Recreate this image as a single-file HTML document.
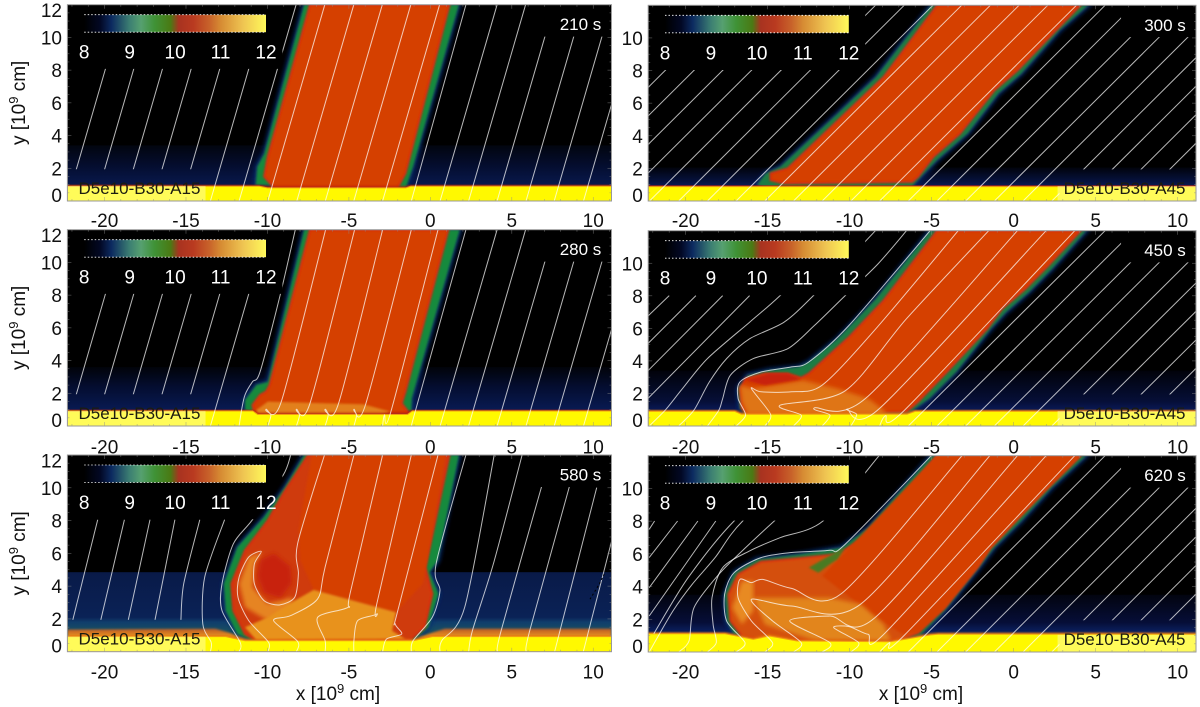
<!DOCTYPE html>
<html lang="en">
<head>
<meta charset="utf-8">
<title>Jet density panels</title>
<style>
html,body{margin:0;padding:0;background:#fff;}
svg{display:block;}
text{font-family:"Liberation Sans",sans-serif;}
</style>
</head>
<body>
<svg id="figure" xmlns="http://www.w3.org/2000/svg" width="1200" height="707" viewBox="0 0 1200 707">
  <defs>
    <filter id="soft" x="-10%" y="-10%" width="120%" height="120%"><feGaussianBlur stdDeviation="1"/></filter>
    <filter id="softer" x="-10%" y="-10%" width="120%" height="120%"><feGaussianBlur stdDeviation="2.2"/></filter>
    <filter id="lineSoft" x="-10%" y="-10%" width="120%" height="120%"><feGaussianBlur stdDeviation="0.3"/></filter>
  </defs>
</svg>
<script>
/* ---------- axis values ---------- */
const xDomain = [-22.28, 11.12];
const yDomain = [0, 12];
const xTickValues = [-20, -15, -10, -5, 0, 5, 10];
const yTickValuesLeft = [12, 10, 8, 6, 4, 2, 0];
const yTickValuesRight = [10, 8, 6, 4, 2, 0];
const colorbarDomain = [8, 12];
const colorbarTicks = [8, 9, 10, 11, 12];
const colorbarStops = [
  [8, '#000000'], [8.35, '#020824'], [8.6, '#0c2a60'], [9, '#3c7f72'], [9.25, '#56a070'],
  [9.55, '#3f9236'], [9.9, '#4a7a14'], [10.08, '#a83320'], [10.4, '#b93a20'], [10.75, '#c8622a'],
  [11, '#d68b33'], [11.5, '#efc552'], [12, '#fff95a']
];
const panelTimes = ['210 s', '280 s', '580 s', '300 s', '450 s', '620 s'];
const panelIds = ['D5e10-B30-A15', 'D5e10-B30-A15', 'D5e10-B30-A15', 'D5e10-B30-A45', 'D5e10-B30-A45', 'D5e10-B30-A45'];

/* ---------- masks in data units: xmin,xmax,ymin,ymax ---------- */
const lineMaskLeft = [[-22.28,-9.08,8.08,12],[6.2,11.12,10.05,12],[-22.28,-14.1,0,1.94]];
const lineMaskRight = [[-22.28,-9.05,8.03,12],[6.55,11.12,10.05,12],[2.8,11.12,0,1.94]];

/* ---------- surface profiles (x,y) ---------- */
const surface210 = [-22.28,.9,-10.5,.9,-10,.8,-1.5,.8,-1.2,.9,11.12,.9];
const surface280 = [-22.28,.92,-10.9,.92,-10.6,.7,-1.4,.7,-1.1,.92,11.12,.92];
const surface580 = [-22.28,.92,-12.56,.92,-11.38,.67,-1.06,.67,.12,.92,11.12,.92];
const surface300 = [-22.28,.88,11.12,.88];
const surface450 = [-22.28,.9,-17,.9,-16.6,.72,-6.5,.72,-6,.9,11.12,.9];
const surface620 = [-22.28,1.12,-17.6,1.12,-15.87,.77,-14.9,.98,-13.2,.67,-7.5,.63,-5.1,1.04,-4.6,1.08,11.12,1.08];

/* ---------- corona top heights and stops ---------- */
const coronaTop = [3.4, 3.6, 4.85, 2.05, 3.4, 3.5];
const coronaStops = [
  [[3.4,'#02050f'],[2.2,'#040d2e'],[.9,'#09194e']],
  [[3.6,'#01030a'],[2.4,'#040d30'],[.9,'#091b54']],
  [[4.85,'#091a48'],[2.1,'#0a2256'],[1.8,'#103e6c'],[1.3,'#174e62']],
  [[2.05,'#01030c'],[1.2,'#06123f'],[.9,'#0a1a55']],
  [[3.4,'#01020a'],[1.5,'#060f38'],[.9,'#0a1a5a']],
  [[3.5,'#02040f'],[1.8,'#060e38'],[1.1,'#0c2468']]
];

/* ---------- region outlines in units of 10^9 cm ---------- */
const green210 = [-7.75,12,-10.2,2.9,-10.63,2.1,-10.73,.98,-1.5,.8,-1.05,2.1,1.75,12];
const core210 = [-7.39,12,-9.98,2.71,-10.2,1.49,-9.62,.84,-2,.84,-1.53,1.69,1.17,12];
const green280 = [-7.75,12,-9.98,2.71,-10.68,2.51,-11.38,1.59,-11.38,.98,-10.8,.77,-1.17,.88,-1.13,1.69,1.8,12];
const core280 = [-7.39,12,-9.86,2.51,-10.09,2.1,-10.45,1.9,-10.92,1.28,-10.8,.77,-1.29,.77,-1.76,1.39,-1.53,2.1,1.1,12];
const dome280 = [-10.68,.98,-9.98,1.49,-6.46,1.39,-4.11,1.33,-2.46,.88,-2.93,.71,-10.68,.71];
const layer580 = [-22.28,0,-22.28,1.35,-13.2,1.4,-11.8,1,-.4,1,.9,1.4,11.12,1.4,11.12,0];
const green580 = [-7.75,12,-8.92,10.05,-10.21,8.22,-11.85,6.38,-12.68,4.14,-12.56,2.51,-11.85,1.08,-10.92,.67,-1.06,.67,-.12,1.49,.5,3.53,-.05,4.85,.45,5.57,1.75,12];
const core580 = [-7.51,12,-9.04,9.64,-9.98,8.01,-11.38,6.18,-12.21,4.14,-12.09,2.51,-11.38,1.08,-10.68,.67,-1.29,.67,-.35,1.49,.12,3.53,-.31,5.16,1.17,12];
const jet580 = [-7.28,12,-8.1,7.4,-7.98,5.57,-7.16,3.77,-2.11,2.41,-.47,4.14,-.23,5.36,.94,12];
const bright580 = [-7.16,3.77,-2.11,2.41,-2.35,1.28,-1.53,.77,-10.68,.71,-11.38,1.49,-9.98,2.1,-8.33,3.12];
const swirl580 = [-10.33,6.08,-11.15,5.77,-11.74,4.14,-11.38,2.71,-9.98,1.9,-8.57,2.3,-8.45,3.32,-9.98,2.92,-10.92,3.93,-10.8,5.36];
const blob580 = [-9.6,6,-8.6,5.2,-8.5,4.2,-9.2,3.3,-10.2,3.6,-10.6,4.6,-10.4,5.6];
const green300 = [-5.02,12,-8.4,7.6,-10.74,5.36,-14.24,2.1,-15.12,1.69,-15.64,.98,-14.94,.77,-6.3,.77,-5.65,1.49,-4.67,2.51,-2.8,4.14,-.93,6.59,.47,7.81,2.8,10.46,4.55,12];
const core300 = [-4.67,12,-7.93,7.6,-10.27,5.36,-13.77,2,-14.82,1.69,-14.82,1.28,-14,1.08,-6.18,1.18,-5.83,1.49,-4.9,2.71,-3.27,4.14,-1.17,6.79,.23,8.01,2.57,10.46,4.08,12];
const green450 = [-5.09,12,-8.4,7.81,-10.74,5.36,-12.49,3.93,-13.07,3.63,-14.94,3.43,-16.22,3.12,-16.8,2.3,-16.69,1.08,-16.34,.71,-6.42,.77,-5.13,1.69,-3.5,3.32,-1.4,5.97,-.47,6.99,.93,8.22,2.33,9.64,4.43,12];
const core450 = [-4.67,12,-7.93,7.71,-10.04,5.46,-12.49,3.22,-12.95,2.96,-13.77,3.22,-15.17,3.22,-16.34,2.92,-16.69,2.3,-16.57,1.08,-16.22,.71,-6.53,.88,-5.83,1.49,-4.08,3.32,-1.63,5.97,-.7,7.2,.7,8.42,2.1,9.85,4.08,12];
const bright450 = [-16.69,2.51,-15.87,2.3,-12.84,2.81,-10.74,2.3,-8.87,1.69,-8.05,1.08,-7.7,.71,-16.22,.71,-16.57,1.49];
const dome450 = [-16.34,2.81,-14.94,3.22,-13.77,3.22,-12.95,2.87,-15.17,2.5];
const green620 = [-5.02,12,-8.87,7.6,-10.5,6.38,-13.07,5.97,-15.64,5.67,-17.04,4.85,-17.62,3.53,-17.5,1.9,-17.04,1.08,-15.87,.71,-5.72,.98,-4.2,2.51,-2.1,5.16,-1.17,6.38,.47,8.01,2.33,10.05,4.43,12];
const core620 = [-4.67,12,-9.1,7,-10.74,5.97,-13.07,5.73,-15.4,5.52,-16.8,4.75,-17.39,3.53,-17.27,1.9,-16.57,.98,-15.17,.71,-7,.71,-5.83,1.18,-4.2,2.71,-2.22,5.16,-1.4,6.38,.23,8.11,2.1,10.05,4.08,12];
const jet620 = [-4.67,12,-11.67,4.65,-8.63,2.3,-6.77,1.08,-5.83,1.18,-4.2,2.71,-2.22,5.16,-1.4,6.38,.23,8.11,2.1,10.05,4.08,12];
const bright620 = [-15.87,3.32,-11.2,3.32,-9.33,2.92,-7.93,1.69,-7.47,.67,-12.14,.71,-15.17,1.69];
const shock620 = [-16.57,4.34,-15.87,4.34,-15.87,2.51,-16.57,1.69,-17.15,2.71];
const patch620 = [-12.49,5.16,-11.44,5.77,-10.27,6.38,-10.74,5.67,-11.2,5.36,-11.9,4.85];

/* ---------- magnetic field lines (x,y,x,y,...) ---------- */
const fieldTail15 = [
  [.6,0,4.1,12],[2.35,0,5.85,12],[4.1,0,7.6,12],[5.87,0,9.37,12],[7.6,0,11.1,12],[9.4,0,12.9,12]
];
const fieldHead15 = [
  [-22.3,0,-18.8,12],[-20.56,0,-17.06,12],[-18.8,0,-15.3,12],[-17.04,0,-13.54,12],[-15.28,0,-11.78,12],[-13.5,0,-10,12]
];
const lines210 = fieldHead15.concat([
  [-11.74,0,-8.24,12],[-9.98,0,-6.48,12],[-8.2,0,-4.7,12],[-6.45,0,-2.95,12],[-4.7,0,-1.2,12],[-2.93,0,.57,12],[-1.17,0,2.18,12]
], fieldTail15);
const lines280 = fieldHead15.concat([
  [-11.74,0,-11.57,1.08,-11.38,1.9,-10.92,2.71,-10.45,3.32,-9.2,8.09,-8.29,12],
  [-9.98,0,-9.79,.67,-10.09,1.02,-9.15,1.49,-6.43,12],
  [-8.22,0,-8.03,.67,-8.22,1.02,-7.39,1.39,-4.65,12],
  [-6.46,0,-6.27,.67,-6.46,1.02,-5.63,1.39,-2.93,12],
  [-4.69,0,-4.53,.67,-4.69,1.02,-3.99,1.28,-1.17,12],
  [-2.93,0,-2.82,.67,-2.42,.88,.47,12],
  [-1.17,0,-.82,1.28,2.18,12]
], fieldTail15);
const lines580 = [
  [-21.95,1.94,-20.42,8.05],[-20.23,1.94,-18.78,8.05],[-18.54,1.94,-17.21,8.05],[-16.9,1.94,-15.68,8.05],
  [-15.31,1.94,-15.14,4.14,-14.15,8.05],
  [-13.5,0,-13.45,.57,-13.97,1.69,-13.85,4.55,-12.63,8.05],
  [-11.74,0,-11.67,.57,-12.79,2.51,-12.79,4.14,-12.09,6.59,-10.92,8.05,-9.04,10.76,-8.57,12],
  [-9.98,0,-9.93,.57,-11.15,1.9,-11.81,3.32,-11.74,4.55,-11.15,5.77,-10.38,6.12,-10.8,5.36,-10.8,4.14,-10.21,3.12,-9.27,2.85,-8.33,3.32,-8.1,4.75,-8.15,6.59,-6.5,12],
  [-8.22,0,-8.15,.63,-9.62,1.9,-8.57,2.2,-6.92,3.22,-6.46,5.16,-4.69,12],
  [-6.46,0,-6.46,.67,-6.92,2.1,-5.05,2.71,-4.93,3.53,-2.93,12],
  [-4.69,0,-4.69,.67,-4.46,1.9,-3.29,2.3,-3.29,2.92,-1.17,12],
  [-2.93,0,-2.7,.77,-1.76,1.08,-2.16,1.69,-2,2.51,.47,12],
  [-1.17,0,-1.06,.67,.12,2.1,.59,3.73,.35,5.36,2.18,12],
  [.59,0,.7,.67,2.11,2.71,3.92,12],
  [2.35,0,2.58,1.28,3.87,5.36,5.63,12],
  [4.11,0,4.34,1.28,6.81,10.01,7.4,12],
  [5.87,0,6.1,1.28,8.52,10.01,9.1,12],
  [7.63,0,10.21,10.01],
  [9.39,0,11.97,10.01]
];
const fieldHead45 = [
  [-29.25,0,-17.25,12],[-27.5,0,-15.5,12],[-25.75,0,-13.75,12],[-24,0,-12,12]
];
const fieldTail45 = [
  [-6.42,0,5.58,12],[-4.67,0,7.33,12],[-2.92,0,9.08,12],[-1.17,0,10.83,12],[.58,0,12.58,12],
  [2.33,0,14.33,12],[4.08,0,16.08,12],[5.83,0,17.83,12],[7.58,0,19.58,12],[9.33,0,21.33,12]
];
const lines300 = fieldHead45.concat([
  [-22.2,0,-10.2,12],[-20.42,0,-8.42,12],[-18.67,0,-6.67,12],[-16.92,0,-4.92,12],[-15.17,0,-3.17,12],
  [-13.42,0,-1.42,12],[-11.67,0,.33,12],[-9.92,0,2.08,12],[-8.17,0,3.83,12]
], fieldTail45);
const lines450 = [
  [-22.3,6.75,-21,8.01],[-22.3,5.06,-19.37,8.01],[-22.3,3.39,-17.74,8.01],[-22.3,1.69,-16.1,8.01],
  [-22.22,0,-21.24,.98,-20.19,2.3,-18.67,4.14,-16.1,6.38,-14.24,8.01,-10.2,12],
  [-20.42,0,-19.49,.98,-18.55,2.71,-17.5,4.14,-16.1,5.36,-14,6.38,-12.21,8.01,-8.42,12],
  [-18.67,0,-17.97,.98,-17.74,1.69,-17.27,3.12,-15.87,4.14,-13.77,4.75,-12.14,6.18,-10.27,8.01,-8.28,9.95,-6.53,12],
  [-16.92,0,-16.34,.67,-16.8,1.69,-16.69,2.71,-15.4,3.32,-13.54,3.63,-12.49,3.93,-10.04,6.18,-5.09,12],
  [-15.17,0,-14.82,.71,-15.99,2.3,-15.4,2.1,-13.54,2.1,-11.67,2.51,-8.4,5.97,-3.38,12],
  [-13.42,0,-12.95,.67,-14.24,1.28,-10.27,2.16,-6.53,6.59,-1.52,12],
  [-11.67,0,-11.2,.67,-12.14,1.12,-8.98,1.73,.23,12],
  [-9.92,0,-9.57,.71,-10.15,1.04,-8.17,1.08,1.98,12],
  [-8.17,0,-7.82,.63,-6.65,.98,3.73,12]
].concat(fieldTail45);
const lines620 = [
  [-22.22,7.5,-21.89,8.01],[-22.22,5.77,-20.49,8.01],[-22.22,3.93,-19.25,8.01],[-22.22,2.2,-18.16,8.01],
  [-21.94,1.12,-19.84,4.55,-17.04,8.01,-12.5,12],
  [-22.22,0,-20.77,2.51,-19.6,4.14,-18.2,5.77,-16.52,8.01,-12,12],
  [-20.42,0,-19.79,.67,-19.49,2.71,-17.97,4.75,-16.34,6.38,-14.59,8.01,-10.2,12],
  [-18.67,0,-18.13,.57,-18.32,1.69,-18.39,3.32,-17.74,5.16,-16.1,6.18,-14.24,6.99,-11.62,8.01,-8.2,12],
  [-16.92,0,-16.38,.57,-17.5,1.9,-17.62,3.53,-17.04,4.85,-15.4,5.77,-13.54,6.08,-11.2,6.22,-10.27,6.59,-5.02,12],
  [-15.17,0,-14.7,.57,-15.99,1.9,-16.8,3.32,-16.69,4.44,-15.99,4.24,-15.29,4.44,-13.54,3.89,-10.5,3.57,-3.15,12],
  [-13.42,0,-12.95,.57,-14.7,1.9,-15.99,3.22,-13.54,2.81,-9.33,2.92,-1.45,12],
  [-11.67,0,-11.2,.57,-13.65,1.9,-11.2,2.2,-8.45,2.1,.23,12],
  [-9.92,0,-9.45,.57,-10.97,1.49,-10.03,1.55,-8.87,1.08,-7.82,1.18,1.98,12],
  [-8.17,0,-7.58,.57,-6.65,1.04,3.73,12]
].concat(fieldTail45);
const tracer580 = [9.8,3.2,10.4,4.2,11.1,5.6];

/* ---------- panel layout ---------- */
const layouts = [
  {L:67.4,R:611.5,T:4.7,B:201,tick:227,col:0},
  {L:67.4,R:611.5,T:229.7,B:426,tick:453.5,col:0},
  {L:67.4,R:611.5,T:455,B:651.7,tick:678.5,col:0},
  {L:648.2,R:1196,T:5.3,B:201,tick:227,col:1},
  {L:648.2,R:1196,T:230.7,B:426,tick:453.5,col:1},
  {L:648.2,R:1196,T:455.7,B:652,tick:678.5,col:1}
];
const surfaces = [surface210,surface280,surface580,surface300,surface450,surface620];
const fieldSets = [lines210,lines280,lines580,lines300,lines450,lines620];

const NS = 'http://www.w3.org/2000/svg';
const svg = document.getElementById('figure');
const defs = svg.querySelector('defs');

function make(tag, attrs, parent) {
  const node = document.createElementNS(NS, tag);
  for (const k in attrs) node.setAttribute(k, attrs[k]);
  parent.appendChild(node);
  return node;
}
function xAxis(lay, v) { return lay.L + (v - xDomain[0]) / (xDomain[1] - xDomain[0]) * (lay.R - lay.L); }
function yAxis(lay, v) { return lay.T + (yDomain[1] - v) / (yDomain[1] - yDomain[0]) * (lay.B - lay.T); }
function toPoints(lay, flat) {
  const out = [];
  for (let i = 0; i < flat.length; i += 2) out.push([xAxis(lay, flat[i]), yAxis(lay, flat[i + 1])]);
  return out;
}
function polyAttr(lay, flat) {
  return toPoints(lay, flat).map(p => p[0].toFixed(1) + ',' + p[1].toFixed(1)).join(' ');
}
function splinePath(pts) {
  let d = 'M' + pts[0][0].toFixed(1) + ' ' + pts[0][1].toFixed(1);
  if (pts.length === 2) return d + 'L' + pts[1][0].toFixed(1) + ' ' + pts[1][1].toFixed(1);
  for (let i = 0; i < pts.length - 1; i++) {
    const p0 = pts[Math.max(0, i - 1)], p1 = pts[i], p2 = pts[i + 1], p3 = pts[Math.min(pts.length - 1, i + 2)];
    const t = 0.14;
    let c1x = p1[0] + (p2[0] - p0[0]) * t, c1y = p1[1] + (p2[1] - p0[1]) * t;
    let c2x = p2[0] - (p3[0] - p1[0]) * t, c2y = p2[1] - (p3[1] - p1[1]) * t;
    d += 'C' + c1x.toFixed(1) + ' ' + c1y.toFixed(1) + ' ' + c2x.toFixed(1) + ' ' + c2y.toFixed(1) + ' ' + p2[0].toFixed(1) + ' ' + p2[1].toFixed(1);
  }
  return d;
}
function region(parent, lay, flat, name, fill, extra) {
  const attrs = Object.assign({ points: polyAttr(lay, flat), fill: fill }, extra || {});
  const el = make('polygon', attrs, parent);
  
  
  return el;
}
function label(parent, x, y, str, name, size, fill, anchor) {
  const el = make('text', { x: x, y: y, 'font-size': size, fill: fill, 'text-anchor': anchor }, parent);
  el.textContent = str;
  
  
  return el;
}

/* colour bar gradient, shared */
const cbGrad = make('linearGradient', { id: 'cbGrad', x1: 0, x2: 1, y1: 0, y2: 0 }, defs);
colorbarStops.forEach(s => {
  make('stop', { offset: (s[0] - colorbarDomain[0]) / (colorbarDomain[1] - colorbarDomain[0]), 'stop-color': s[1] }, cbGrad);
});

layouts.forEach((lay, idx) => {
  const panel = make('g', {}, svg);
  
  

  const clip = make('clipPath', { id: 'plot' + idx }, defs);
  make('rect', { x: lay.L, y: lay.T, width: lay.R - lay.L, height: lay.B - lay.T }, clip);
  const masks = lay.col === 0 ? lineMaskLeft : lineMaskRight;
  const lineClip = make('clipPath', { id: 'lineClip' + idx }, defs);
  let maskD = 'M' + lay.L + ' ' + lay.T + 'H' + lay.R + 'V' + lay.B + 'H' + lay.L + 'Z';
  masks.forEach(m => {
    const x0 = xAxis(lay, m[0]), x1 = xAxis(lay, m[1]), y0 = yAxis(lay, m[3]), y1 = yAxis(lay, m[2]);
    maskD += 'M' + x0 + ' ' + y0 + 'H' + x1 + 'V' + y1 + 'H' + x0 + 'Z';
  });
  make('path', { d: maskD, 'clip-rule': 'evenodd' }, lineClip);

  const plot = make('g', { 'clip-path': 'url(#plot' + idx + ')' }, panel);
  
  

  const bg = make('rect', { x: lay.L, y: lay.T, width: lay.R - lay.L, height: lay.B - lay.T, fill: '#000' }, plot);
  
  

  /* corona band */
  const stops = coronaStops[idx];
  const grad = make('linearGradient', { id: 'band' + idx, gradientUnits: 'userSpaceOnUse', x1: 0, x2: 0, y1: yAxis(lay, stops[0][0]), y2: yAxis(lay, stops[stops.length - 1][0]) }, defs);
  stops.forEach(s => {
    make('stop', { offset: (s[0] - stops[0][0]) / (stops[stops.length - 1][0] - stops[0][0]), 'stop-color': s[1] }, grad);
  });
  const band = make('rect', { x: lay.L, y: yAxis(lay, coronaTop[idx]), width: lay.R - lay.L, height: yAxis(lay, 0) - yAxis(lay, coronaTop[idx]), fill: 'url(#band' + idx + ')' }, plot);
  
  

  if (idx === 2) {
    const layerFill = make('linearGradient', { id: 'layer580', gradientUnits: 'userSpaceOnUse', x1: 0, x2: 0, y1: yAxis(lay, 1.4), y2: yAxis(lay, .9) }, defs);
    make('stop', { offset: 0, 'stop-color': '#c05a28' }, layerFill);
    make('stop', { offset: 1, 'stop-color': '#e8951c' }, layerFill);
    region(plot, lay, layer580, 'transition-layer', 'url(#layer580)', { filter: 'url(#soft)' });
  }

  const jetGroup = make('g', {}, plot);
  
  
  const halo = { filter: 'url(#softer)', stroke: '#0b2a70', 'stroke-width': 4 };
  const soft = { filter: 'url(#soft)' };
  const rim = { filter: 'url(#soft)', stroke: '#e0260f', 'stroke-width': 2 };
  const ORANGE = '#d53f02';

  if (idx === 0) {
    region(jetGroup, lay, green210, 'jet-halo', '#0b2a70', halo);
    region(jetGroup, lay, green210, 'jet-sheath', '#128a3c', soft);
    region(jetGroup, lay, core210, 'jet-core', ORANGE, rim);
  } else if (idx === 1) {
    region(jetGroup, lay, green280, 'jet-halo', '#0b2a70', halo);
    region(jetGroup, lay, green280, 'jet-sheath', '#128a3c', soft);
    region(jetGroup, lay, core280, 'jet-core', ORANGE, rim);
    region(jetGroup, lay, dome280, 'impact-dome', '#e2801a', soft);
  } else if (idx === 2) {
    region(jetGroup, lay, green580, 'jet-halo', '#0f4a78', halo);
    region(jetGroup, lay, green580, 'jet-sheath', '#128a3c', soft);
    region(jetGroup, lay, core580, 'splash-envelope', '#cf3a0c', rim);
    region(jetGroup, lay, jet580, 'jet-core', ORANGE, soft);
    region(jetGroup, lay, swirl580, 'swirl-crescent', '#e68420', { filter: 'url(#softer)' });
    region(jetGroup, lay, bright580, 'impact-region', '#e8921a', { filter: 'url(#soft)' });
    region(jetGroup, lay, blob580, 'swirl-center', '#c8240f', { filter: 'url(#softer)' });
  } else if (idx === 3) {
    region(jetGroup, lay, green300, 'jet-halo', '#0b2a70', halo);
    region(jetGroup, lay, green300, 'jet-sheath', '#1d7d44', soft);
    region(jetGroup, lay, core300, 'jet-core', ORANGE, rim);
  } else if (idx === 4) {
    region(jetGroup, lay, green450, 'jet-halo', '#0b2a70', halo);
    region(jetGroup, lay, green450, 'jet-sheath', '#1d7d44', soft);
    region(jetGroup, lay, core450, 'jet-core', ORANGE, rim);
    region(jetGroup, lay, bright450, 'impact-region', '#df7418', { filter: 'url(#softer)' });
    region(jetGroup, lay, dome450, 'impact-dome', '#c8240f', soft);
  } else {
    region(jetGroup, lay, green620, 'jet-halo', '#0b2a70', halo);
    region(jetGroup, lay, green620, 'jet-sheath', '#1d7d44', soft);
    region(jetGroup, lay, core620, 'splash-envelope', '#d4500f', rim);
    region(jetGroup, lay, jet620, 'jet-core', ORANGE, soft);
    region(jetGroup, lay, bright620, 'impact-region', '#e2851a', { filter: 'url(#softer)' });
    region(jetGroup, lay, shock620, 'shock-front', '#e88a20', { filter: 'url(#softer)' });
    region(jetGroup, lay, patch620, 'green-patch', '#4a7a20', soft);
  }

  /* chromosphere */
  const s = surfaces[idx];
  const surfacePoly = s.concat([xDomain[1], 0, xDomain[0], 0]);
  const glow = (idx === 2 || idx === 4 || idx === 5) ? '#e8760f' : '#b8200a';
  region(plot, lay, surfacePoly, 'surface-glow', '#ffff00', { stroke: glow, 'stroke-width': 3, filter: 'url(#soft)' });
  region(plot, lay, surfacePoly, 'chromosphere', '#fff900', { stroke: '#f2a010', 'stroke-width': 1 });

  /* field lines */
  const lineGroup = make('g', { 'clip-path': 'url(#lineClip' + idx + ')', fill: 'none', stroke: '#fff', 'stroke-width': 1, 'stroke-opacity': .72, filter: 'url(#lineSoft)' }, plot);
  
  
  fieldSets[idx].forEach(flat => {
    const line = make('path', { d: splinePath(toPoints(lay, flat)) }, lineGroup);
    
    
  });

  if (idx === 2) {
    const tracer = make('path', { d: splinePath(toPoints(lay, tracer580)), fill: 'none', stroke: '#000', 'stroke-width': 1, 'stroke-dasharray': '2 2.5' }, plot);
    
    
  }

  /* id label box */
  const boxTop = yAxis(lay, idx === 5 ? 1.05 : .92);
  const boxX = lay.col === 0 ? lay.L : xAxis(lay, 2.68);
  const boxW = lay.col === 0 ? xAxis(lay, -13.8) - lay.L : lay.R - boxX;
  const box = make('rect', { x: boxX, y: boxTop, width: boxW, height: lay.B - boxTop, fill: '#fff', 'fill-opacity': .35 }, plot);
  
  
  if (lay.col === 0) {
    label(panel, lay.L + 11.1, lay.B - 7, panelIds[idx], 'run-label', 17, '#1c1c10', 'start');
  } else {
    label(panel, lay.R - 10.5, lay.B - 7, panelIds[idx], 'run-label', 17, '#1c1c10', 'end');
  }
  label(panel, lay.R - 10.2, lay.T + 25.5, panelTimes[idx], 'time-label', 17, '#fff', 'end');

  /* colour bar */
  const cbL = lay.col === 0 ? 84.2 : 665;
  const cbR = lay.col === 0 ? 266 : 848.8;
  const cbT = lay.T + 10, cbH = 17.5;
  const cb = make('g', {}, panel);
  
  
  const cbRect = make('rect', { x: cbL, y: cbT, width: cbR - cbL, height: cbH, fill: 'url(#cbGrad)' }, cb);
  
  
  const cbTop = make('line', { x1: cbL, x2: cbR, y1: cbT, y2: cbT, stroke: '#fff', 'stroke-width': .8, 'stroke-dasharray': '1.5 2' }, cb);
  
  
  const cbBot = make('line', { x1: cbL, x2: cbR, y1: cbT + cbH, y2: cbT + cbH, stroke: '#fff', 'stroke-width': .8, 'stroke-dasharray': '1.5 2' }, cb);
  
  
  colorbarTicks.forEach(v => {
    const x = cbL + (v - colorbarDomain[0]) / (colorbarDomain[1] - colorbarDomain[0]) * (cbR - cbL);
    label(cb, x, lay.T + 54, String(v), 'colorbar-tick-label', 19, '#fff', 'middle');
  });

  /* frame and ticks */
  const tickGroup = make('g', { stroke: '#8a8a8a', 'stroke-width': .6, 'stroke-opacity': .7, fill: 'none' }, panel);
  
  
  for (let v = -22; v <= 11; v++) {
    const len = v % 5 === 0 ? 4 : 2;
    const x = xAxis(lay, v);
    make('line', { x1: x, x2: x, y1: lay.B, y2: lay.B - len }, tickGroup);
    make('line', { x1: x, x2: x, y1: lay.T, y2: lay.T + len }, tickGroup);
  }
  for (let v = 0; v <= 12; v += .5) {
    const len = v % 2 === 0 ? 4 : 2;
    const y = yAxis(lay, v);
    make('line', { x1: lay.L, x2: lay.L + len, y1: y, y2: y }, tickGroup);
    make('line', { x1: lay.R, x2: lay.R - len, y1: y, y2: y }, tickGroup);
  }
  const frame = make('rect', { x: lay.L, y: lay.T, width: lay.R - lay.L, height: lay.B - lay.T, fill: 'none', stroke: '#9a9a9a', 'stroke-width': 1 }, panel);
  
  

  xTickValues.forEach(v => {
    label(panel, xAxis(lay, v), lay.tick, String(v), 'x-tick-label', 19, '#111', 'middle');
  });
  const yVals = lay.col === 0 ? yTickValuesLeft : yTickValuesRight;
  const yEnd = lay.col === 0 ? 62 : 642.8;
  yVals.forEach(v => {
    const cy = Math.min(Math.max(yAxis(lay, v), lay.T + 5.5), lay.B - 6);
    label(panel, yEnd, cy + 7, String(v), 'y-tick-label', 19, '#111', 'end');
  });

  /* axis titles */
  if (lay.col === 0) {
    const cy = (lay.T + lay.B) / 2 + 0;
    const yt = make('text', { transform: 'translate(25 ' + cy + ') rotate(-90)', 'font-size': 19, fill: '#111', 'text-anchor': 'middle' }, panel);
    
    
    yt.appendChild(document.createTextNode('y [10'));
    const sup = make('tspan', { 'font-size': 13, dy: -7 }, yt);
    sup.textContent = '9';
    const rest = make('tspan', { dy: 7 }, yt);
    rest.textContent = ' cm]';
  }
  if (idx === 2 || idx === 5) {
    const cx = idx === 2 ? 338 : 921;
    const xt = make('text', { x: cx, y: 700, 'font-size': 19, fill: '#111', 'text-anchor': 'middle' }, panel);
    
    
    xt.appendChild(document.createTextNode('x [10'));
    const sup2 = make('tspan', { 'font-size': 13, dy: -7 }, xt);
    sup2.textContent = '9';
    const rest2 = make('tspan', { dy: 7 }, xt);
    rest2.textContent = ' cm]';
  }
});
</script>
</body>
</html>
